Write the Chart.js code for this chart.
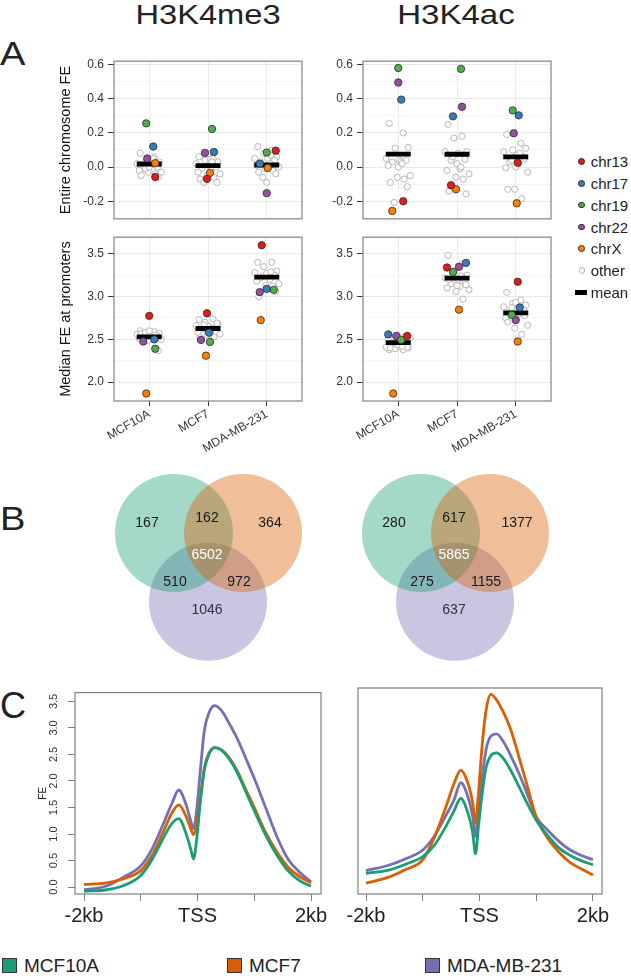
<!DOCTYPE html>
<html>
<head>
<meta charset="utf-8">
<script src="https://cdn.jsdelivr.net/npm/chart.js@4.4.1/dist/chart.umd.min.js"></script>
<style>
  body { margin: 0; background: #fff; width: 631px; height: 979px; overflow: hidden; position: relative;
         font-family: 'Liberation Sans', Arial, sans-serif; color: #222; }
  canvas { position: absolute; }
  .txt { position: absolute; white-space: nowrap; line-height: 1; }
  .dot { position: absolute; border-radius: 50%; box-sizing: border-box; }
  .sq { position: absolute; box-sizing: border-box; border: 1px solid #333; }
</style>
</head>
<body>
<canvas id="a1" width="250" height="180" style="left:55px;top:50px"></canvas>
<canvas id="a2" width="225" height="180" style="left:330px;top:50px"></canvas>
<canvas id="a3" width="250" height="235" style="left:55px;top:226px"></canvas>
<canvas id="a4" width="225" height="235" style="left:330px;top:226px"></canvas>
<canvas id="b1" width="200" height="200" style="left:108px;top:468px"></canvas>
<canvas id="b2" width="200" height="200" style="left:355px;top:468px"></canvas>
<canvas id="c1" width="306" height="252" style="left:35px;top:680px"></canvas>
<canvas id="c2" width="294" height="252" style="left:330px;top:680px"></canvas>
<script>
// ---- data ----
const groups = ['MCF10A', 'MCF7', 'MDA-MB-231'];
const chrNames = ['chr13', 'chr17', 'chr19', 'chr22', 'chrX'];

// rows follow chrNames, columns follow groups
const me3ChromFE = [[-0.058, -0.069, 0.096], [0.12, 0.088, 0.02], [0.256, 0.223, 0.085], [0.05, 0.083, -0.153], [0.023, -0.034, -0.005]];
const me3ChromMean = [0.018, 0.009, 0.012];
const me3ChromOther = [
  [0.08, 0.06, 0.04, 0.03, 0.02, 0.01, 0.0, -0.01, -0.02, -0.02, -0.03, -0.03, -0.04, -0.05, -0.06, -0.01, 0.0, 0.05],
  [0.06, 0.05, 0.04, 0.03, 0.02, 0.01, 0.0, -0.01, -0.02, -0.03, -0.04, -0.05, -0.06, -0.07, -0.09, -0.09, 0.08, 0.03],
  [0.12, 0.1, 0.08, 0.06, 0.05, 0.05, 0.04, 0.03, 0.02, 0.01, 0.0, -0.01, -0.02, -0.03, -0.04, -0.06, -0.09, 0.07]
];
const acChromFE = [[-0.2, -0.106, 0.025], [0.395, 0.297, 0.303], [0.58, 0.575, 0.332], [0.495, 0.353, 0.198], [-0.257, -0.13, -0.212]];
const acChromMean = [0.076, 0.075, 0.06];
const acChromOther = [
  [0.255, 0.2, 0.11, 0.115, 0.05, 0.04, 0.04, 0.03, 0.03, 0.01, -0.05, -0.06, -0.07, -0.09, -0.115, -0.207, 0.0, 0.02],
  [0.25, 0.18, 0.17, 0.09, 0.09, 0.08, 0.045, 0.04, -0.01, -0.02, -0.04, -0.06, -0.07, -0.14, -0.157, 0.06, 0.02, 0.0],
  [0.19, 0.14, 0.1, 0.11, 0.09, 0.07, 0.06, 0.03, 0.02, -0.005, -0.03, -0.13, -0.185, -0.13, 0.05, 0.04, 0.0, 0.08]
];
const me3PromFE = [[2.775, 2.805, 3.6], [2.5, 2.578, 3.09], [2.39, 2.47, 3.079], [2.475, 2.494, 3.052], [1.868, 2.31, 2.725]];
const me3PromMean = [2.53, 2.627, 3.227];
const me3PromOther = [
  [2.6, 2.59, 2.58, 2.57, 2.56, 2.55, 2.54, 2.53, 2.52, 2.51, 2.5, 2.49, 2.55, 2.57, 2.37, 2.58, 2.6, 2.52],
  [2.73, 2.74, 2.7, 2.68, 2.66, 2.65, 2.64, 2.62, 2.6, 2.58, 2.56, 2.55, 2.53, 2.52, 2.69, 2.67, 2.61, 2.63],
  [3.4, 3.4, 3.35, 3.3, 3.28, 3.26, 3.25, 3.22, 3.2, 3.18, 3.15, 3.13, 3.12, 3.0, 3.06, 3.24, 3.27, 3.29]
];
const acPromFE = [[2.54, 3.34, 3.173], [2.558, 3.394, 2.873], [2.494, 3.287, 2.786], [2.54, 3.348, 2.726], [1.868, 2.847, 2.475]];
const acPromMean = [2.463, 3.215, 2.81];
const acPromOther = [
  [2.38, 2.38, 2.39, 2.4, 2.41, 2.42, 2.43, 2.44, 2.45, 2.5, 2.52, 2.55, 2.53, 2.4, 2.41, 2.46, 2.44, 2.42],
  [3.48, 3.38, 3.3, 3.25, 3.22, 3.2, 3.18, 3.15, 3.12, 3.1, 3.08, 3.06, 2.97, 3.2, 3.14, 3.27, 3.13, 3.24],
  [3.05, 2.96, 2.92, 2.9, 2.88, 2.85, 2.84, 2.82, 2.8, 2.75, 2.665, 2.63, 2.558, 2.7, 2.78, 2.87, 2.93, 2.86]
];
const chromTicks = [-0.2, 0.0, 0.2, 0.4, 0.6];
const promTicks = [2.0, 2.5, 3.0, 3.5];

// venn regions: MCF10A only, MCF10A&MCF7, MCF7 only, all three, MCF10A&MDA, MCF7&MDA, MDA only
const me3Venn = [167, 162, 364, 6502, 510, 972, 1046];
const acVenn = [280, 617, 1377, 5865, 275, 1155, 637];

// TSS profiles (kb from TSS)
const profilePos = [-2, -1.6, -1.3, -1.0, -0.8, -0.6, -0.45, -0.33, -0.2, -0.12, -0.07, -0.02, 0.05, 0.12, 0.2, 0.3, 0.42, 0.55, 0.7, 0.85, 1.0, 1.2, 1.4, 1.6, 1.8, 2.0];
const me3MCF10A = [-0.08, -0.05, 0.03, 0.22, 0.52, 0.93, 1.2, 1.29, 1.0, 0.72, 0.53, 0.85, 1.6, 2.2, 2.5, 2.63, 2.58, 2.43, 2.16, 1.8, 1.44, 0.98, 0.6, 0.3, 0.12, 0.02];
const me3MCF7 = [0.05, 0.08, 0.16, 0.31, 0.6, 1.05, 1.4, 1.55, 1.33, 1.1, 0.99, 1.15, 1.7, 2.25, 2.52, 2.63, 2.59, 2.45, 2.19, 1.84, 1.5, 1.03, 0.66, 0.37, 0.2, 0.08];
const me3MDA = [-0.05, 0.02, 0.19, 0.4, 0.72, 1.2, 1.58, 1.83, 1.55, 1.25, 1.1, 1.4, 2.2, 2.95, 3.28, 3.42, 3.33, 3.1, 2.8, 2.43, 2.05, 1.5, 0.95, 0.52, 0.28, 0.1];
const acMCF10A = [0.25, 0.31, 0.42, 0.56, 0.76, 1.1, 1.4, 1.63, 1.35, 1.0, 0.61, 1.1, 1.75, 2.22, 2.42, 2.47, 2.37, 2.15, 1.84, 1.52, 1.23, 0.95, 0.72, 0.58, 0.48, 0.41];
const acMCF7 = [0.07, 0.18, 0.32, 0.5, 0.9, 1.45, 1.9, 2.15, 1.9, 1.55, 1.17, 1.7, 2.65, 3.28, 3.55, 3.45, 3.22, 2.9, 2.38, 1.83, 1.29, 0.9, 0.64, 0.45, 0.33, 0.22];
const acMDA = [0.3, 0.4, 0.52, 0.68, 0.93, 1.3, 1.6, 1.92, 1.65, 1.3, 0.93, 1.4, 2.05, 2.55, 2.78, 2.82, 2.68, 2.42, 2.08, 1.69, 1.29, 1.05, 0.84, 0.68, 0.58, 0.5];
const profileTicks = [-2, -1, 0, 1, 2];
const profileTickLabels = ['-2kb', '', 'TSS', '', '2kb'];
const feTicks = [0.0, 0.5, 1.0, 1.5, 2.0, 2.5, 3.0, 3.5];

// ---- styles / layout ----
const FONT = "'Liberation Sans', Arial, sans-serif";
Chart.defaults.font.family = FONT;
const chrColors = ['#e41a1c', '#377eb8', '#4daf4a', '#984ea3', '#ff7f00'];
const lineColors = ['#1b9e77', '#d95f02', '#7570b3'];
const otherJitter = [-9, 5, -3, 10, -12, 1, 8, -6, 3, -10, 12, -1, 6, -8, 9, -4, 0, 4];
const me3ChromJit = [[6, -1, 9], [4, 6, -7], [-3, 4, 0], [-2, -3, 0], [6, 2, 1]];
const acChromJit = [[5, -6, 2], [3, -4, 3], [0, 4, -3], [0, 5, -2], [-6, -1, 1]];
const me3PromJit = [[0, -1, -5], [5, 1, 0], [6, 2, 7], [-6, -7, -7], [-3, -2, -6]];
const acPromJit = [[9, -10, 2], [-10, 9, 4], [3, -4, -4], [-2, 2, 0], [-5, 2, 2]];

const boxPlugin = {
  id: 'box',
  afterDatasetsDraw(chart, args, opts) {
    const a = chart.chartArea, ctx = chart.ctx;
    ctx.save();
    ctx.strokeStyle = opts.color || '#888';
    ctx.lineWidth = opts.width || 1.2;
    ctx.strokeRect(a.left, a.top, a.right - a.left, a.bottom - a.top);
    ctx.restore();
  }
};

function stripChart(id, colored, other, mean, jit, range, major, showX, yTitle, yWidth, pad) {
  const pxPerUnit = 188 / 3.2;
  const minor = major.slice(0, -1).map((v, i) => (v + major[i + 1]) / 2);
  const all = major.concat(minor).sort((a, b) => a - b);
  const isMajor = v => major.some(t => Math.abs(t - v) < 1e-6);

  const datasets = [];
  const others = [];
  other.forEach((vals, g) => vals.forEach((v, i) =>
    others.push({ x: g + 1 + otherJitter[i % otherJitter.length] / pxPerUnit, y: v })));
  datasets.push({ data: others, order: 2, pointRadius: 3.1, pointBackgroundColor: '#fff',
    pointBorderColor: '#b0b0b0', pointBorderWidth: 0.9 });
  datasets.push({ data: mean.map((v, g) => ({ x: g + 1, y: v })), order: 1, pointStyle: 'line',
    pointRadius: 12.5, pointBorderWidth: 4.8, pointBorderColor: '#000' });
  colored.forEach((vals, c) => datasets.push({
    data: vals.map((v, g) => ({ x: g + 1 + jit[c][g] / pxPerUnit, y: v })), order: 0,
    pointRadius: 3.7, pointBackgroundColor: chrColors[c], pointBorderColor: '#2b2b2b', pointBorderWidth: 0.8
  }));

  new Chart(document.getElementById(id), {
    type: 'scatter',
    data: { datasets },
    options: {
      responsive: false, animation: false, events: [],
      layout: { padding: pad, autoPadding: false },
      plugins: { legend: { display: false }, tooltip: { enabled: false }, box: { color: '#8c8c8c', width: 1.3 } },
      scales: {
        x: {
          min: 0.4, max: 3.6,
          afterBuildTicks: s => { s.ticks = [1, 2, 3].map(v => ({ value: v })); },
          afterFit: s => { s.height = showX ? 55 : 0; },
          ticks: { display: showX, callback: v => groups[Math.round(v) - 1], minRotation: 30, maxRotation: 30,
                   autoSkip: false, font: { size: 12 }, color: '#333', padding: 1 },
          grid: { color: '#ebebeb', drawTicks: showX, tickLength: 5, tickColor: '#333' },
          border: { display: false }
        },
        y: {
          min: range[0], max: range[1],
          afterBuildTicks: s => { s.ticks = all.map(v => ({ value: v })); },
          afterFit: s => { s.width = yWidth; },
          ticks: { callback: v => isMajor(v) ? v.toFixed(1) : '', autoSkip: false, font: { size: 12 }, color: '#333', padding: 4 },
          grid: {
            color: c => (c.tick && isMajor(c.tick.value)) ? '#e8e8e8' : '#f4f4f4',
            tickColor: c => (c.tick && isMajor(c.tick.value)) ? '#333' : 'rgba(0,0,0,0)',
            tickLength: 6
          },
          border: { display: false },
          title: { display: !!yTitle, text: yTitle, font: { size: 14.5 }, color: '#111', padding: { top: 2, bottom: 0 } }
        }
      }
    },
    plugins: [boxPlugin]
  });
}

stripChart('a1', me3ChromFE, me3ChromOther, me3ChromMean, me3ChromJit, [-0.303, 0.62], chromTicks, false,
  'Entire chromosome FE', 59, { top: 7, right: 3, bottom: 3, left: 0 });
stripChart('a2', acChromFE, acChromOther, acChromMean, acChromJit, [-0.303, 0.62], chromTicks, false,
  '', 33, { top: 7, right: 4, bottom: 3, left: 0 });
stripChart('a3', me3PromFE, me3PromOther, me3PromMean, me3PromJit, [1.78, 3.694], promTicks, true,
  'Median FE at promoters', 59, { top: 7, right: 3, bottom: 5, left: 0 });
stripChart('a4', acPromFE, acPromOther, acPromMean, acPromJit, [1.78, 3.694], promTicks, true,
  '', 33, { top: 7, right: 4, bottom: 5, left: 0 });

// ---- venn ----
const vennCenters = [[-34, 35], [35, 35], [0, -33.7]];
const vennFill = ['rgba(27,158,119,0.4)', 'rgba(217,95,2,0.4)', 'rgba(117,112,179,0.4)'];
const vennOrder = [1, 0, 2];
const vennLabelPos = [[-61, 45], [-1, 50], [62, 45], [-1, 13], [-33, -14], [31, -14], [-1, -42]];

function vennChart(id, counts) {
  const labels = {
    id: 'vennLabels',
    afterDatasetsDraw(chart) {
      const ctx = chart.ctx, sx = chart.scales.x, sy = chart.scales.y;
      ctx.save();
      ctx.font = '14px ' + FONT;
      ctx.textAlign = 'center';
      ctx.textBaseline = 'middle';
      counts.forEach((n, i) => {
        ctx.fillStyle = i === 3 ? '#fff' : (i === 6 ? '#33304a' : '#1a1a1a');
        ctx.fillText(String(n), sx.getPixelForValue(vennLabelPos[i][0]), sy.getPixelForValue(vennLabelPos[i][1]));
      });
      ctx.restore();
    }
  };
  new Chart(document.getElementById(id), {
    type: 'bubble',
    data: {
      datasets: vennCenters.map((c, i) => ({
        data: [{ x: c[0], y: c[1], r: 59 }], backgroundColor: vennFill[i], borderWidth: 0, order: vennOrder[i], clip: false
      }))
    },
    options: {
      responsive: false, animation: false, events: [],
      layout: { padding: 0, autoPadding: false },
      plugins: { legend: { display: false }, tooltip: { enabled: false } },
      scales: { x: { display: false, min: -100, max: 100 }, y: { display: false, min: -100, max: 100 } }
    },
    plugins: [labels]
  });
}
vennChart('b1', me3Venn);
vennChart('b2', acVenn);

// ---- TSS profiles ----
function profileChart(id, series, xRange, showY, pad) {
  new Chart(document.getElementById(id), {
    type: 'line',
    data: {
      datasets: series.map((s, i) => ({
        label: groups[i], data: profilePos.map((x, j) => ({ x, y: s[j] })),
        borderColor: lineColors[i], borderWidth: 2.8, pointRadius: 0, fill: false,
        tension: 0.4, cubicInterpolationMode: 'monotone', order: i
      }))
    },
    options: {
      responsive: false, animation: false, events: [],
      layout: { padding: pad, autoPadding: false },
      plugins: { legend: { display: false }, tooltip: { enabled: false }, box: { color: '#808080', width: 1.2 } },
      scales: {
        x: {
          type: 'linear', min: xRange[0], max: xRange[1],
          afterBuildTicks: s => { s.ticks = profileTicks.map(v => ({ value: v })); },
          afterFit: s => { s.height = 36; },
          ticks: { callback: v => profileTickLabels[profileTicks.indexOf(v)], autoSkip: false, maxRotation: 0,
                   font: { size: 20 }, color: '#222', padding: 3 },
          grid: { drawOnChartArea: false, tickLength: 7, tickColor: '#808080' },
          border: { display: false }
        },
        y: showY ? {
          min: -0.13, max: 3.666,
          afterBuildTicks: s => { s.ticks = feTicks.map(v => ({ value: v })); },
          afterFit: s => { s.width = 40; },
          ticks: { callback: v => v.toFixed(1), autoSkip: false, minRotation: 90, maxRotation: 90, crossAlign: 'center',
                   font: { size: 11 }, color: '#333', padding: 6 },
          grid: { drawOnChartArea: false, tickLength: 7, tickColor: '#808080' },
          border: { display: false },
          title: { display: true, text: 'FE', font: { size: 10 }, color: '#222', padding: { top: 2, bottom: 0 } }
        } : { display: false, min: -0.13, max: 3.666 }
      }
    },
    plugins: [boxPlugin]
  });
}
profileChart('c1', [me3MCF10A, me3MCF7, me3MDA], [-2.159, 2.176], true, { top: 8, right: 20, bottom: 2, left: 0 });
profileChart('c2', [acMCF10A, acMCF7, acMDA], [-2.141, 2.159], false, { top: 8, right: 22, bottom: 2, left: 28 });

// ---- text, legends ----
function place(text, x, base, fs, align, sx, color) {
  const d = document.createElement('div');
  d.className = 'txt';
  d.textContent = text;
  d.style.fontSize = fs + 'px';
  d.style.top = (base - 0.8465 * fs) + 'px';
  d.style.left = x + 'px';
  if (color) d.style.color = color;
  const s = sx || 1;
  if (align === 'center') {
    d.style.transformOrigin = '50% 0';
    d.style.transform = 'translateX(-50%) scaleX(' + s + ')';
  } else {
    d.style.transformOrigin = '0 0';
    d.style.transform = 'scaleX(' + s + ')';
  }
  document.body.appendChild(d);
  return d;
}
function dot(x, y, r, fill, border, bw) {
  const d = document.createElement('div');
  d.className = 'dot';
  d.style.left = (x - r) + 'px'; d.style.top = (y - r) + 'px';
  d.style.width = d.style.height = (2 * r) + 'px';
  d.style.background = fill;
  d.style.border = bw + 'px solid ' + border;
  document.body.appendChild(d);
}

place('H3K4me3', 208, 25, 28, 'center', 1.165);
place('H3K4ac', 456, 25, 28, 'center', 1.18);
place('A', 0, 65, 34, 'left', 1.12);
place('B', 0, 530, 34, 'left', 1.12);
place('C', 0, 718, 36, 'left', 1.0);

const legY0 = 161.5, legStep = 21.8;
chrNames.forEach((n, i) => {
  const y = legY0 + legStep * i;
  dot(581.7, y, 3.4, chrColors[i], '#2b2b2b', 0.8);
  place(n, 590.7, y + 5.4, 15, 'left');
});
const yOther = legY0 + legStep * 5;
dot(581.7, yOther, 3.1, '#fff', '#b0b0b0', 0.9);
place('other', 590.7, yOther + 5.4, 15, 'left');
const yMean = legY0 + legStep * 6;
const bar = document.createElement('div');
bar.style.cssText = 'position:absolute;left:575px;top:' + (yMean - 2.2) + 'px;width:12px;height:4.5px;background:#000';
document.body.appendChild(bar);
place('mean', 590.7, yMean + 5.4, 15, 'left');

const legX = [[2, 24], [227, 249], [425, 447]];
groups.forEach((g, i) => {
  const s = document.createElement('div');
  s.className = 'sq';
  s.style.cssText += 'left:' + legX[i][0] + 'px;top:958px;width:15px;height:15px;background:' + lineColors[i];
  document.body.appendChild(s);
  place(g, legX[i][1], 972, 19, 'left');
});
</script>
</body>
</html>
